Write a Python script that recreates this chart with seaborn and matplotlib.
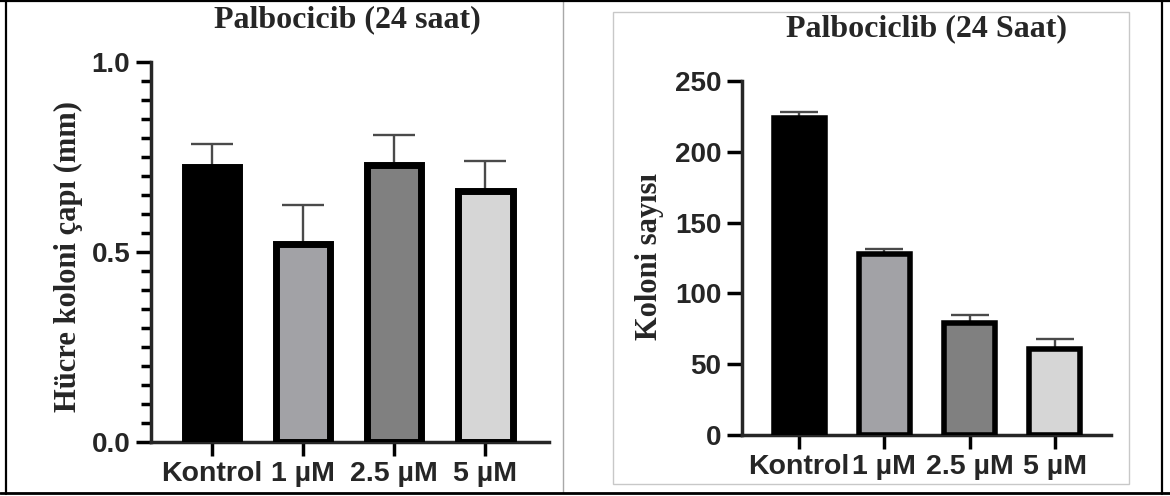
import matplotlib
matplotlib.use("Agg")
import matplotlib.pyplot as plt
import seaborn as sns
import numpy as np
import pandas as pd
from matplotlib.lines import Line2D
from matplotlib.patches import Rectangle
from matplotlib.ticker import MultipleLocator

# ---------------- data ----------------
categories = ["Kontrol", "1 µM", "2.5 µM", "5 µM"]
bar_colors = ["#000000", "#a2a2a6", "#808080", "#d6d6d6"]

diameter_title = "Palbocicib (24 saat)"
diameter_ylabel = "Hücre koloni çapı (mm)"
diameter_mean = [0.725, 0.52, 0.728, 0.66]
diameter_err = [0.058, 0.105, 0.08, 0.08]
diameter_ticks = [0.0, 0.5, 1.0]

count_title = "Palbociclib (24 Saat)"
count_ylabel = "Koloni sayısı"
count_mean = [224, 128, 79, 61]
count_err = [4, 3.5, 5.5, 7]
count_ticks = [0, 50, 100, 150, 200, 250]

# ---------------- style ----------------
sns.set_theme(style="ticks")
plt.rcParams["font.family"] = ["DejaVu Sans"]
plt.rcParams["axes.linewidth"] = 2.5

W, H = 1170, 496
fig = plt.figure(figsize=(W / 100, H / 100), dpi=100)
fig.patch.set_facecolor("white")


def px_axes(x0, x1, y_bottom, y_top):
    return fig.add_axes([x0 / W, (H - y_bottom) / H, (x1 - x0) / W, (y_bottom - y_top) / H])


def draw_panel(ax, means, errs, ymax, ticks, title, ylabel, xlim, edge_lw,
               title_xy, ylabel_xy, minor=None, capsize=15):
    df = pd.DataFrame({"cat": categories, "val": means})
    sns.barplot(data=df, x="cat", y="val", hue="cat", palette=bar_colors,
                legend=False, ax=ax, width=0.6, edgecolor="black",
                linewidth=edge_lw, errorbar=None, saturation=1, zorder=3)
    xs = [p.get_x() + p.get_width() / 2 for p in ax.patches]
    ax.errorbar(xs, means, yerr=[np.zeros(len(errs)), errs], fmt="none",
                ecolor="#4a4a4a", elinewidth=1.7, capsize=capsize,
                capthick=1.7, zorder=2)
    ax.set_xlim(*xlim)
    ax.set_ylim(0, ymax)
    ax.set_yticks(ticks)
    if minor is not None:
        ax.yaxis.set_minor_locator(MultipleLocator(minor))
        ax.tick_params(axis="y", which="minor", length=7, width=2.5, color="black")
    ax.set_yticklabels([("%g" % t if isinstance(t, int) else "%.1f" % t) for t in ticks],
                       fontfamily="Liberation Sans", fontweight="bold", fontsize=20)
    ax.tick_params(axis="y", which="major", length=11, width=2.5, color="black", pad=4)
    ax.tick_params(axis="x", which="major", length=10, width=2.5, color="black", pad=4)
    for lab in ax.get_xticklabels():
        lab.set_fontweight("bold")
        lab.set_fontsize(20.5)
        lab.set_fontfamily("Liberation Sans")
    ax.set_xlabel("")
    ax.set_ylabel(ylabel, fontfamily="Liberation Serif", fontweight="bold",
                  fontsize=22, va="center")
    ax.yaxis.set_label_coords(*ylabel_xy)
    ax.text(title_xy[0], title_xy[1], title, transform=ax.transAxes,
            ha="center", va="center", fontfamily="Liberation Serif",
            fontweight="bold", fontsize=23)
    sns.despine(ax=ax)
    ax.set_facecolor("none")


# left panel
axL = px_axes(151, 549, 442, 62)
draw_panel(axL, diameter_mean, diameter_err, 1.0, diameter_ticks,
           diameter_title, diameter_ylabel, (-0.67, 3.70), 5.0,
           ((347 - 151) / 398, (442 - 20) / 380),
           ((68 - 151) / 398, (442 - 256) / 380), minor=0.05, capsize=15)

# right panel
axR = px_axes(742, 1111, 435, 81)
draw_panel(axR, count_mean, count_err, 250, count_ticks,
           count_title, count_ylabel, (-0.67, 3.66), 4.0,
           ((927 - 742) / 369, (435 - 29) / 354),
           ((650 - 742) / 369, (435 - 257) / 354), minor=None, capsize=14)

# ---------------- frames around the two images ----------------
def fline(xs, ys, color, lw):
    fig.add_artist(Line2D([x / W for x in xs], [1 - y / H for y in ys],
                          color=color, lw=lw, transform=fig.transFigure))

# right panel inner light frame
fig.add_artist(Rectangle((612.5 / W, 1 - 484 / H), (1129 - 612.5) / W, (484 - 12) / H,
                         fill=False, edgecolor="#c8c8c8", lw=1.0,
                         transform=fig.transFigure))
# divider between panels
fline([563, 563], [0, 493], "#a8a8a8", 1.0)
# outer black frame
fline([6, 6], [0, 494], "black", 1.6)
fline([0, W], [1, 1], "black", 1.6)
fline([0, W], [493, 493], "black", 2.0)
fline([1162, 1162], [0, 494], "black", 1.6)

fig.savefig("out.png", dpi=100, facecolor="white")
